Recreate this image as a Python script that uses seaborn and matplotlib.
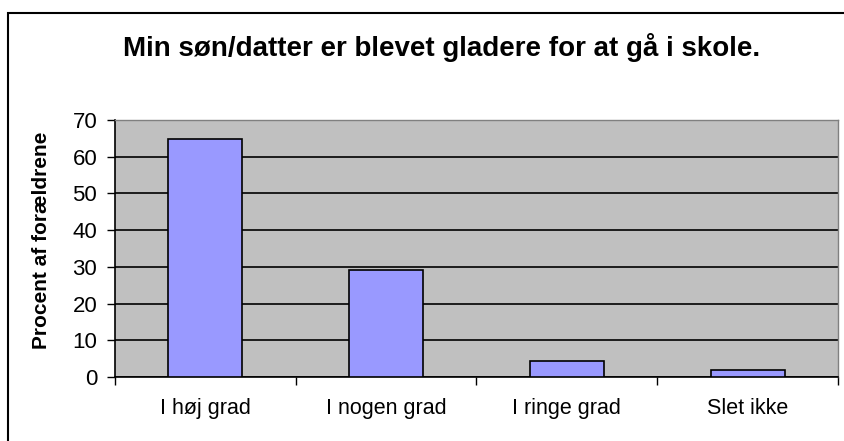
import matplotlib
matplotlib.use("Agg")
import matplotlib.pyplot as plt
import seaborn as sns
import pandas as pd
from matplotlib.patches import Rectangle

categories = ["I høj grad", "I nogen grad", "I ringe grad", "Slet ikke"]
values = [64.7, 29.1, 4.4, 2.0]

df = pd.DataFrame({"Svar": categories, "Procent": values})

sns.set_theme(style="white")
plt.rcParams["font.family"] = ["Liberation Sans", "DejaVu Sans"]

fig = plt.figure(figsize=(8.45, 4.41), dpi=100)
ax = fig.add_axes([115 / 845, 1 - 377 / 441, (838 - 115) / 845, (377 - 120) / 441])

sns.barplot(data=df, x="Svar", y="Procent", color="#9999FF", width=0.41,
            edgecolor="black", linewidth=1.2, saturation=1, ax=ax, zorder=3)

ax.set_facecolor("#C0C0C0")
ax.set_ylim(0, 70)
ax.set_yticks(range(0, 71, 10))
ax.set_xlim(-0.5, 3.5)
ax.yaxis.grid(True, color="black", linewidth=1.2, zorder=1)
ax.set_axisbelow(True)

# x ticks sit between categories
ax.set_xticks([-0.5, 0.5, 1.5, 2.5, 3.5], minor=True)
ax.tick_params(axis="x", which="major", length=0, labelsize=15.5, pad=15, colors="black")
ax.tick_params(axis="x", which="minor", length=6, width=1, direction="out", color="black", bottom=True)
ax.tick_params(axis="y", length=5.8, width=1, direction="out", labelsize=16, pad=7, colors="black", left=True)

for side in ["left", "bottom"]:
    ax.spines[side].set_color("black")
    ax.spines[side].set_linewidth(1.2)
for side in ["top", "right"]:
    ax.spines[side].set_color("#808080")
    ax.spines[side].set_linewidth(1)

ax.set_xlabel("")
ax.set_ylabel("")
fig.text(41.5 / 845, 1 - 240 / 441, "Procent af forældrene", rotation=90,
         ha="center", va="center", fontsize=15, fontweight="bold", color="black")

fig.text(442 / 845, 1 - 48 / 441, "Min søn/datter er blevet gladere for at gå i skole.",
         ha="center", va="center", fontsize=20, fontweight="bold", color="black")

# outer chart border
fig.patches.append(Rectangle((8 / 845, -0.02), 1.2, 1 - 13 / 441 + 0.02, transform=fig.transFigure,
                             fill=False, edgecolor="black", linewidth=1.5))

fig.savefig("out.png", dpi=100, facecolor="white")
